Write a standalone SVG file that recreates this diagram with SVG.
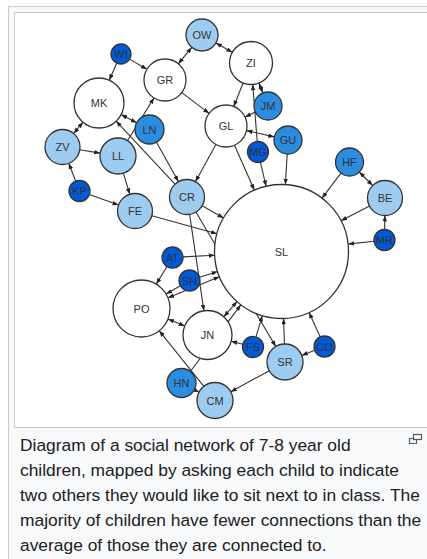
<svg xmlns="http://www.w3.org/2000/svg" width="427" height="559" viewBox="0 0 427 559">
<style>
.e{stroke:#333;stroke-width:1.1;fill:none;marker-end:url(#ar)}
.b{marker-start:url(#ar)}
.n circle{stroke:#333;stroke-width:1.3}
.n text{font-family:"Liberation Sans",Arial,sans-serif;font-size:11px;fill:#333;text-anchor:middle}
.w{fill:#fff}.l{fill:#9ecbf0}.m{fill:#2b8de0}.d{fill:#005ad9}
.cap{font-family:"Liberation Sans",Arial,sans-serif;font-size:17.4px;fill:#202122}
</style>
<defs>
<marker id="ar" markerUnits="userSpaceOnUse" markerWidth="6" markerHeight="5" refX="6" refY="2.25" orient="auto-start-reverse"><path d="M0,0L6,2.25L0,4.5z" fill="#222"/></marker>
</defs>
<rect x="8.5" y="6.5" width="430" height="560" fill="#f8f9fa" stroke="#c8ccd1"/>
<rect x="14.5" y="12.5" width="430" height="415" fill="#fff" stroke="#c8ccd1"/>
<g id="connectors">
<line class="e b" x1="191.8" y1="47.4" x2="178.3" y2="63.8"/>
<line class="e b" x1="215.9" y1="42.9" x2="232.3" y2="52.3"/>
<line class="e" x1="116.9" y1="63.1" x2="109.2" y2="80.2"/>
<line class="e" x1="129.6" y1="59.1" x2="146.9" y2="69.3"/>
<line class="e" x1="181.8" y1="92.6" x2="209.2" y2="113.4"/>
<line class="e" x1="243.1" y1="83.0" x2="233.7" y2="106.5"/>
<line class="e b" x1="258.9" y1="83.0" x2="262.9" y2="93.0"/>
<line class="e" x1="257.2" y1="141.5" x2="252.7" y2="84.4"/>
<line class="e" x1="255.4" y1="112.0" x2="245.0" y2="117.0"/>
<line class="e b" x1="246.5" y1="130.6" x2="274.3" y2="136.9"/>
<line class="e" x1="215.9" y1="144.4" x2="195.4" y2="181.7"/>
<line class="e" x1="234.5" y1="145.2" x2="254.4" y2="190.2"/>
<line class="e" x1="260.4" y1="162.2" x2="266.1" y2="186.3"/>
<line class="e" x1="287.2" y1="154.0" x2="285.4" y2="184.6"/>
<line class="e" x1="341.0" y1="173.1" x2="322.0" y2="198.2"/>
<line class="e b" x1="359.3" y1="172.0" x2="372.7" y2="185.5"/>
<line class="e" x1="369.5" y1="206.0" x2="341.0" y2="220.7"/>
<line class="e" x1="384.6" y1="229.5" x2="384.8" y2="215.5"/>
<line class="e" x1="374.1" y1="241.2" x2="348.1" y2="244.1"/>
<line class="e b" x1="83.0" y1="122.2" x2="73.7" y2="133.5"/>
<line class="e b" x1="121.1" y1="114.6" x2="136.7" y2="122.8"/>
<line class="e" x1="127.5" y1="140.7" x2="154.0" y2="97.9"/>
<line class="e" x1="79.8" y1="149.8" x2="100.2" y2="153.1"/>
<line class="e" x1="75.7" y1="181.2" x2="68.8" y2="163.3"/>
<line class="e" x1="89.4" y1="194.6" x2="118.5" y2="205.1"/>
<line class="e" x1="123.3" y1="173.2" x2="129.8" y2="194.3"/>
<line class="e" x1="156.5" y1="142.2" x2="178.5" y2="181.7"/>
<line class="e" x1="175.0" y1="184.2" x2="116.1" y2="121.2"/>
<line class="e" x1="202.2" y1="205.7" x2="223.5" y2="218.0"/>
<line class="e" x1="151.9" y1="215.7" x2="216.9" y2="233.7"/>
<line class="e" x1="189.6" y1="214.3" x2="203.9" y2="310.8"/>
<line class="e" x1="195.9" y1="212.0" x2="275.8" y2="346.5"/>
<line class="e" x1="183.0" y1="256.9" x2="214.6" y2="255.2"/>
<line class="e" x1="167.0" y1="266.5" x2="156.3" y2="284.1"/>
<line class="e" x1="180.4" y1="285.8" x2="166.1" y2="294.1"/>
<line class="e" x1="199.5" y1="277.3" x2="217.6" y2="271.6"/>
<line class="e b" x1="167.9" y1="297.8" x2="219.5" y2="276.8"/>
<line class="e b" x1="168.0" y1="319.1" x2="184.8" y2="325.9"/>
<line class="e b" x1="223.8" y1="316.7" x2="237.1" y2="301.6"/>
<line class="e" x1="190.3" y1="371.5" x2="240.9" y2="304.8"/>
<line class="e" x1="242.8" y1="344.3" x2="231.2" y2="341.2"/>
<line class="e" x1="256.0" y1="336.9" x2="262.3" y2="315.7"/>
<line class="e" x1="284.4" y1="344.0" x2="283.6" y2="318.5"/>
<line class="e" x1="320.2" y1="336.9" x2="309.1" y2="312.5"/>
<line class="e" x1="314.7" y1="350.3" x2="301.8" y2="355.4"/>
<line class="e" x1="269.2" y1="370.7" x2="230.8" y2="391.8"/>
<line class="e" x1="194.4" y1="389.7" x2="199.1" y2="392.2"/>
<line class="e" x1="203.8" y1="386.4" x2="159.3" y2="330.8"/>
</g>
<g id="SL" class="n"><circle class="w" cx="281.5" cy="251.5" r="67"/><text x="281.5" y="255.5">SL</text></g>
<g id="OW" class="n"><circle class="l" cx="202" cy="35" r="16"/><text x="202" y="39">OW</text></g>
<g id="WI" class="n"><circle class="d" cx="121" cy="54" r="10"/><text x="121" y="58">WI</text></g>
<g id="GR" class="n"><circle class="w" cx="165" cy="80" r="21"/><text x="165" y="84">GR</text></g>
<g id="MK" class="n"><circle class="w" cx="99" cy="103" r="25"/><text x="99" y="107">MK</text></g>
<g id="LN" class="n"><circle class="m" cx="149.5" cy="129.5" r="14.5"/><text x="149.5" y="133.5">LN</text></g>
<g id="ZV" class="n"><circle class="l" cx="62.5" cy="147" r="17.5"/><text x="62.5" y="151">ZV</text></g>
<g id="LL" class="n"><circle class="l" cx="118" cy="156" r="18"/><text x="118" y="160">LL</text></g>
<g id="KP" class="n"><circle class="d" cx="79.5" cy="191" r="10.5"/><text x="79.5" y="195">KP</text></g>
<g id="CR" class="n"><circle class="l" cx="187" cy="197" r="17.5"/><text x="187" y="201">CR</text></g>
<g id="FE" class="n"><circle class="l" cx="135" cy="211" r="17.5"/><text x="135" y="215">FE</text></g>
<g id="ZI" class="n"><circle class="w" cx="251" cy="63" r="21.5"/><text x="251" y="67">ZI</text></g>
<g id="JM" class="n"><circle class="m" cx="268" cy="106" r="14"/><text x="268" y="110">JM</text></g>
<g id="GL" class="n"><circle class="w" cx="226" cy="126" r="21"/><text x="226" y="130">GL</text></g>
<g id="GU" class="n"><circle class="m" cx="288" cy="140" r="14"/><text x="288" y="144">GU</text></g>
<g id="MG" class="n"><circle class="d" cx="258" cy="152" r="10.5"/><text x="258" y="156">MG</text></g>
<g id="HF" class="n"><circle class="m" cx="349.5" cy="162" r="14"/><text x="349.5" y="166">HF</text></g>
<g id="BE" class="n"><circle class="l" cx="385" cy="198" r="17.5"/><text x="385" y="202">BE</text></g>
<g id="MR" class="n"><circle class="d" cx="384.5" cy="240" r="10.5"/><text x="384.5" y="244">MR</text></g>
<g id="FS" class="n"><circle class="d" cx="253" cy="347" r="10.5"/><text x="253" y="351">FS</text></g>
<g id="SR" class="n"><circle class="l" cx="285" cy="362" r="18"/><text x="285" y="366">SR</text></g>
<g id="CO" class="n"><circle class="d" cx="324.5" cy="346.5" r="10.5"/><text x="324.5" y="350.5">CO</text></g>
<g id="CM" class="n"><circle class="l" cx="215" cy="400.5" r="18"/><text x="215" y="404.5">CM</text></g>
<g id="HN" class="n"><circle class="m" cx="181.5" cy="383" r="14.5"/><text x="181.5" y="387">HN</text></g>
<g id="AT" class="n"><circle class="d" cx="172.5" cy="257.5" r="10.5"/><text x="172.5" y="261.5">AT</text></g>
<g id="SH" class="n"><circle class="d" cx="189.5" cy="280.5" r="10.5"/><text x="189.5" y="284.5">SH</text></g>
<g id="PO" class="n"><circle class="w" cx="141.5" cy="308.5" r="28.5"/><text x="141.5" y="312.5">PO</text></g>
<g id="JN" class="n"><circle class="w" cx="207.5" cy="335" r="24.5"/><text x="207.5" y="339">JN</text></g>
<g id="caption">
<text class="cap" x="20" y="451">Diagram of a social network of 7-8 year old</text>
<text class="cap" x="20" y="476">children, mapped by asking each child to indicate</text>
<text class="cap" x="20" y="501">two others they would like to sit next to in class. The</text>
<text class="cap" x="20" y="526">majority of children have fewer connections than the</text>
<text class="cap" x="20" y="551">average of those they are connected to.</text>
<g fill="none" stroke="#54595d" stroke-width="1.2"><rect x="413.5" y="434.5" width="8" height="5"/><path d="M413.5,438.5h-4v5h7v-4"/></g>
</g>
</svg>
